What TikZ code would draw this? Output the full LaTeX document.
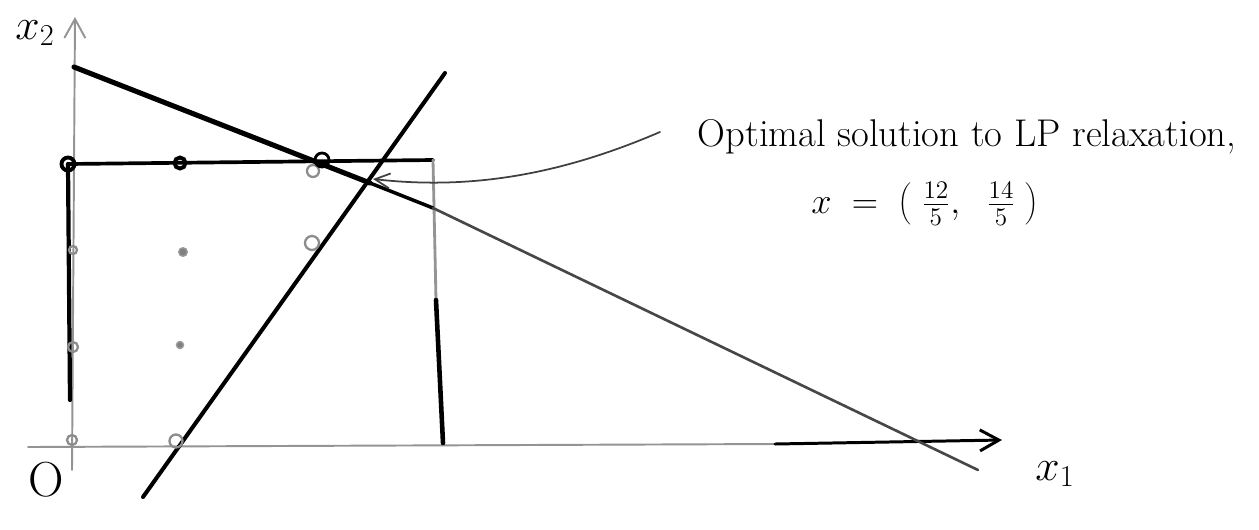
\documentclass[tikz,border=0pt]{standalone}
\usetikzlibrary{arrows.meta}
\begin{document}
\begin{tikzpicture}[x=0.02cm,y=-0.02cm,
  ink/.style={line cap=round, line join=round},
  faint/.style={ink, draw=black!42, line width=1.1pt},
  heavy/.style={ink, draw=black, line width=2.9pt},
  medium/.style={ink, draw=black, line width=2.1pt},
  grayline/.style={ink, draw=black!72, line width=1.5pt},
  ringbold/.style={circle, draw=black, line width=2.2pt, minimum size=0.26cm, inner sep=0pt},
  ringblack/.style={circle, draw=black, line width=1.6pt, minimum size=0.28cm, inner sep=0pt},
  ringgray/.style={circle, draw=black!45, line width=1.3pt, minimum size=0.22cm, inner sep=0pt},
  dotgray/.style={circle, fill=black!50, draw=black!40, line width=0.8pt, minimum size=0.17cm, inner sep=0pt},
  barb/.style={-{Straight Barb[length=0.38cm,width=0.42cm]}},
  lbl/.style={inner sep=0pt}
]
\useasboundingbox (0,0) rectangle (1259,529);

% coordinates
\coordinate (yb) at (72,470);
\coordinate (yt) at (75,17);
\coordinate (xl) at (28,447);
\coordinate (xm) at (775,444);
\coordinate (xr) at (1002,440);
\coordinate (a1) at (74,67);
\coordinate (a2) at (370,183);
\coordinate (a3) at (433,208);
\coordinate (a4) at (978,470);
\coordinate (s1) at (143,497);
\coordinate (s2) at (445,73);
\coordinate (r1) at (68,164);
\coordinate (r2) at (433,160);
\coordinate (r3) at (436,300);
\coordinate (r4) at (443,443);
\coordinate (l2) at (70,400);
\coordinate (cstart) at (660,132);
\coordinate (lpopt) at (373,179);

% axes
\draw[faint, barb] (yb) -- (yt);
\draw[faint] (xl) -- (xm);
\draw[ink, draw=black, line width=1.7pt, barb] (xm) -- (xr);

% rectangle x1<=3, x2<=3
\draw[heavy, line width=2.4pt] (r1) -- (l2);
\draw[medium] (r1) -- (r2);
\draw[faint, line width=1.6pt] (r2) -- (r3);
\draw[heavy, line width=2.6pt] (r3) -- (r4);

% constraint lines
\draw[heavy] (a1) -- (a2);
\draw[medium, line width=2pt] (a2) -- (a3);
\draw[grayline] (a3) -- (a4);
\draw[medium, line width=2.3pt] (s1) -- (s2);

% integer points
\node[ringbold] (p03) at (68,164) {};
\node[ringbold, minimum size=0.22cm] (p13) at (180,163) {};
\node[ringgray, minimum size=0.24cm] (p23b) at (313,171) {};
\node[ringblack] (p23) at (322,160) {};
\node[dotgray] (p12) at (183,252) {};
\node[ringgray, minimum size=0.28cm] (p22) at (312,243) {};
\node[ringgray, minimum size=0.16cm] (p02) at (73,250) {};
\node[dotgray, minimum size=0.14cm] (p11) at (180,345) {};
\node[ringgray, minimum size=0.2cm] (p01) at (73,347) {};
\node[ringgray, minimum size=0.2cm] (p00) at (72,440) {};
\node[ringgray, minimum size=0.26cm] (p10) at (176,441) {};

% labels
\node[lbl] (x2lab) at (35,33) {\fontsize{24}{24}\selectfont $x_2$};
\node[lbl] (x1lab) at (1055,474) {\fontsize{24}{24}\selectfont $x_1$};
\node[lbl] (olab) at (46,480) {\fontsize{28}{28}\selectfont O};

\node[lbl, anchor=base] (opt) at (967,146) {\fontsize{22}{26}\selectfont Optimal solution to LP relaxation,};
\node[lbl] (xval) at (925,204) {\fontsize{20}{24}\selectfont $x\;=\;\left(\;\frac{12}{5},\;\;\frac{14}{5}\;\right)$};

% pointer arrow
\draw[ink, draw=black!75, line width=1pt, -{Straight Barb[length=0.3cm,width=0.3cm]}]
  (cstart) .. controls (560,175) and (470,190) .. (lpopt);

\end{tikzpicture}
\end{document}
